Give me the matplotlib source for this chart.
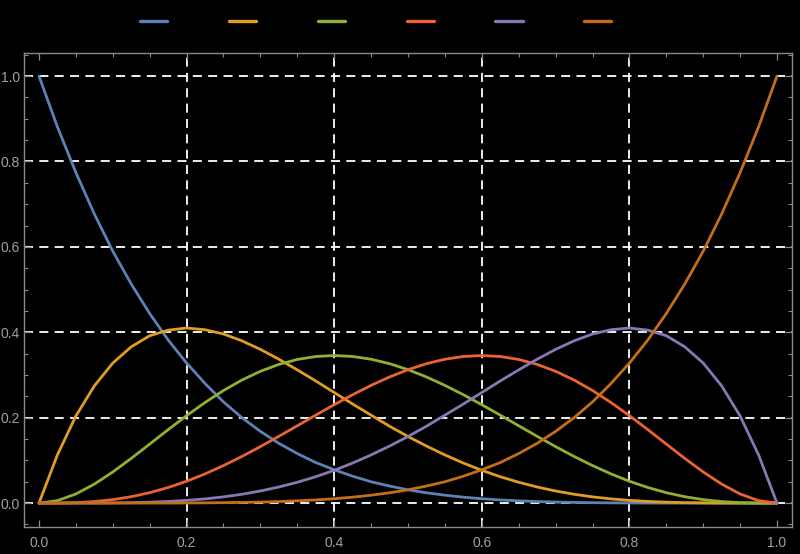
import matplotlib
matplotlib.use("Agg")
import matplotlib.pyplot as plt
from matplotlib.ticker import MultipleLocator

t = [0.000, 0.025, 0.050, 0.075, 0.100, 0.125, 0.150, 0.175, 0.200, 0.225, 0.250,
     0.275, 0.300, 0.325, 0.350, 0.375, 0.400, 0.425, 0.450, 0.475, 0.500,
     0.525, 0.550, 0.575, 0.600, 0.625, 0.650, 0.675, 0.700, 0.725, 0.750,
     0.775, 0.800, 0.825, 0.850, 0.875, 0.900, 0.925, 0.950, 0.975, 1.000]

s0 = [1.000, 0.881, 0.774, 0.677, 0.590, 0.513, 0.444, 0.382, 0.328, 0.280, 0.237,
      0.200, 0.168, 0.140, 0.116, 0.095, 0.078, 0.063, 0.050, 0.040, 0.031,
      0.0242, 0.0185, 0.0139, 0.0102, 0.0074, 0.0053, 0.0036, 0.0024, 0.0016, 0.001,
      0.0006, 0.0003, 0.00016, 0.0001, 0.00003, 0.00001, 0.0, 0.0, 0.0, 0.0]
s1 = [0.000, 0.113, 0.204, 0.2745, 0.328, 0.366, 0.392, 0.405, 0.410, 0.406, 0.396,
      0.380, 0.360, 0.337, 0.312, 0.286, 0.259, 0.232, 0.206, 0.180, 0.156,
      0.1336, 0.1128, 0.0938, 0.0768, 0.0618, 0.0488, 0.0377, 0.0284, 0.0207, 0.0146,
      0.0099, 0.0064, 0.0039, 0.0022, 0.0011, 0.0005, 0.00015, 0.00003, 0.000002, 0.0]
s2 = [0.000, 0.0058, 0.0214, 0.0445, 0.0729, 0.1047, 0.1382, 0.1720, 0.2048, 0.2356, 0.2637,
      0.2882, 0.3087, 0.3248, 0.3364, 0.3433, 0.3456, 0.3434, 0.3369, 0.3265, 0.3125,
      0.2954, 0.2757, 0.2538, 0.2304, 0.2060, 0.1811, 0.1564, 0.1323, 0.1093, 0.0879,
      0.0684, 0.0512, 0.0365, 0.0244, 0.0150, 0.0081, 0.0036, 0.0011, 0.00015, 0.0]
s3 = [0.000, 0.00015, 0.0011, 0.0036, 0.0081, 0.0150, 0.0244, 0.0365, 0.0512, 0.0684, 0.0879,
      0.1093, 0.1323, 0.1564, 0.1811, 0.2060, 0.2304, 0.2538, 0.2757, 0.2954, 0.3125,
      0.3265, 0.3369, 0.3434, 0.3456, 0.3433, 0.3364, 0.3248, 0.3087, 0.2882, 0.2637,
      0.2356, 0.2048, 0.1720, 0.1382, 0.1047, 0.0729, 0.0445, 0.0214, 0.0058, 0.0]
s4 = [0.000, 0.000002, 0.00003, 0.00015, 0.0005, 0.0011, 0.0022, 0.0039, 0.0064, 0.0099, 0.0146,
      0.0207, 0.0284, 0.0377, 0.0488, 0.0618, 0.0768, 0.0938, 0.1128, 0.1336, 0.156,
      0.180, 0.206, 0.232, 0.259, 0.286, 0.312, 0.337, 0.360, 0.380, 0.396,
      0.406, 0.410, 0.405, 0.392, 0.366, 0.328, 0.2745, 0.204, 0.113, 0.000]
s5 = [0.0, 0.0, 0.0, 0.0, 0.00001, 0.00003, 0.0001, 0.00016, 0.0003, 0.0006, 0.001,
      0.0016, 0.0024, 0.0036, 0.0053, 0.0074, 0.0102, 0.0139, 0.0185, 0.0242, 0.031,
      0.040, 0.050, 0.063, 0.078, 0.095, 0.116, 0.140, 0.168, 0.200, 0.237,
      0.280, 0.328, 0.382, 0.444, 0.513, 0.590, 0.677, 0.774, 0.881, 1.000]

series = [s0, s1, s2, s3, s4, s5]
colors = ["#5E81B5", "#E19C24", "#8FB032", "#EB6235", "#8778B3", "#C56E1A"]
labels = ["", "", "", "", "", ""]
tick_vals = [0.0, 0.2, 0.4, 0.6, 0.8, 1.0]
tick_text = ["0.0", "0.2", "0.4", "0.6", "0.8", "1.0"]

fig = plt.figure(figsize=(8, 5.54), dpi=100, facecolor="black")
ax = fig.add_axes([0.03, 0.0487, 0.96, 0.8556])
ax.set_facecolor("black")

handles = []
for ys, c in zip(series, colors):
    h, = ax.plot(t, ys, color=c, lw=2.0, solid_capstyle="round",
                 solid_joinstyle="round", zorder=3)
    handles.append(h)

ax.set_xlim(-0.0203, 1.0203)
ax.set_ylim(-0.056, 1.054)

ax.set_xticks(tick_vals)
ax.set_xticklabels(tick_text, family="Liberation Sans")
ax.set_yticks(tick_vals)
ax.set_yticklabels(tick_text, family="Liberation Sans")
ax.xaxis.set_minor_locator(MultipleLocator(0.05))
ax.yaxis.set_minor_locator(MultipleLocator(0.05))

gray = "#8a8a8a"
for sp in ax.spines.values():
    sp.set_color(gray)
    sp.set_linewidth(1.0)
ax.tick_params(which="both", direction="in", colors=gray, top=True, right=True,
               labelcolor="#a0a0a0", labelsize=10)
ax.tick_params(which="major", length=5, width=0.9)
ax.tick_params(which="minor", length=3, width=0.8)
ax.tick_params(axis="x", which="major", pad=6.5)
ax.tick_params(axis="y", which="major", pad=3)

for xv in [0.2, 0.4, 0.6, 0.8]:
    ax.axvline(xv, color="white", lw=1.3, ls=(0, (5, 3.5)), zorder=1)
for yv in tick_vals:
    ax.axhline(yv, color="white", lw=1.3, ls=(0, (5, 3.5)), zorder=1)

leg = fig.legend(handles, labels, loc="center", bbox_to_anchor=(0.4765, 0.96),
                 ncol=6, frameon=False, handlelength=1.95, handletextpad=0.8,
                 columnspacing=3.65, fontsize=10)
for lh in leg.get_lines():
    lh.set_linewidth(2.4)

fig.savefig("out.png", dpi=100, facecolor="black")
